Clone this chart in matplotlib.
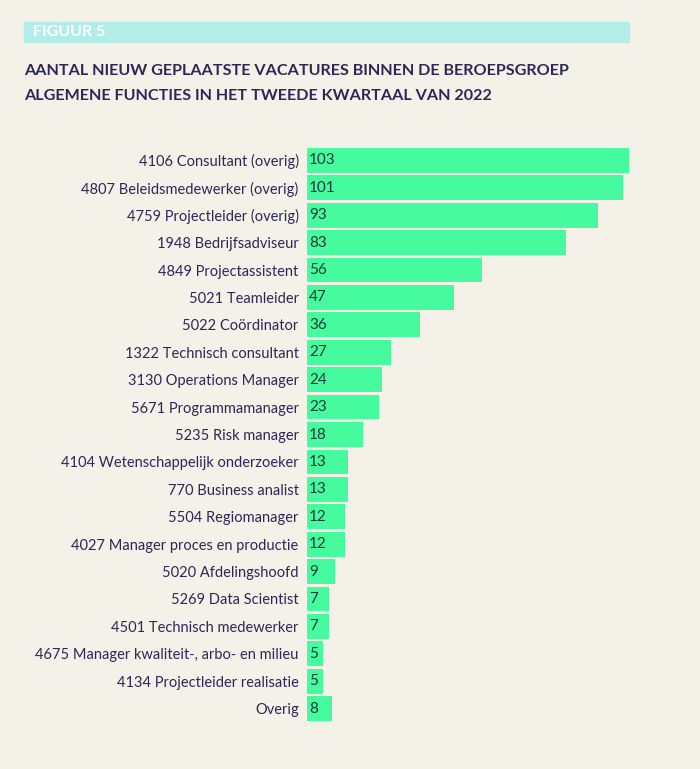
import matplotlib.pyplot as plt
from matplotlib.patches import Rectangle

plt.rcParams['font.family'] = ['Lato', 'DejaVu Sans']

categories = [
    "4106 Consultant (overig)",
    "4807 Beleidsmedewerker (overig)",
    "4759 Projectleider (overig)",
    "1948 Bedrijfsadviseur",
    "4849 Projectassistent",
    "5021 Teamleider",
    "5022 Coördinator",
    "1322 Technisch consultant",
    "3130 Operations Manager",
    "5671 Programmamanager",
    "5235 Risk manager",
    "4104 Wetenschappelijk onderzoeker",
    "770 Business analist",
    "5504 Regiomanager",
    "4027 Manager proces en productie",
    "5020 Afdelingshoofd",
    "5269 Data Scientist",
    "4501 Technisch medewerker",
    "4675 Manager kwaliteit-, arbo- en milieu",
    "4134 Projectleider realisatie",
    "Overig",
]
values = [103, 101, 93, 83, 56, 47, 36, 27, 24, 23, 18, 13, 13, 12, 12, 9, 7, 7, 5, 5, 8]

bg = '#f4f1e8'
bar_color = '#45fb9e'
navy = '#2b2858'

fig = plt.figure(figsize=(7, 7.69), dpi=100, facecolor=bg)

# header band
fig.patches.append(Rectangle((24 / 700, 1 - 42 / 769), 605 / 700, 20 / 769,
                             transform=fig.transFigure, color='#b3ede8', zorder=0))
fig.text(33 / 700, 1 - 32 / 769, "FIGUUR 5", color='white', fontsize=11.5,
         fontweight='bold', va='center', ha='left')
fig.text(24 / 700, 1 - 71 / 769, "AANTAL NIEUW GEPLAATSTE VACATURES BINNEN DE BEROEPSGROEP",
         color=navy, fontsize=11.65, fontweight='bold', va='center', ha='left')
fig.text(24 / 700, 1 - 96 / 769, "ALGEMENE FUNCTIES IN HET TWEEDE KWARTAAL VAN 2022",
         color=navy, fontsize=11.65, fontweight='bold', va='center', ha='left')

ax = fig.add_axes([307 / 700, 48 / 769, 322 / 700, 573 / 769])
ax.set_facecolor(bg)
pos = list(range(len(values)))
ax.barh(pos, values, height=0.9, color=bar_color)
ax.set_xlim(0, 103)
ax.set_ylim(len(values) - 0.55, -0.45)
ax.set_yticks(pos)
ax.set_yticklabels(categories, color=navy, fontsize=10.5)
ax.tick_params(axis='y', length=0, pad=6)
ax.set_xticks([])
for s in ax.spines.values():
    s.set_visible(False)

for p, v in zip(pos, values):
    ax.text(0.6, p, str(v), va='center', ha='left', color='#1e3b3c', fontsize=11)

fig.savefig('out.png', dpi=100, facecolor=bg)
